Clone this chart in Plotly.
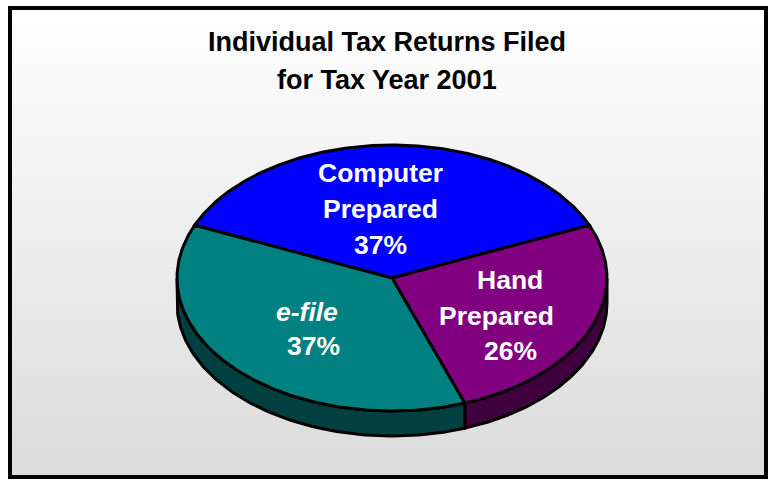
import numpy as np
import plotly.graph_objects as go

# ---- data ----
categories = ["Computer Prepared", "Hand Prepared", "e-file"]
shares = [37, 26, 37]
label_lines = [["Computer", "Prepared"], ["Hand", "Prepared"], ["<i>e-file</i>"]]
title_lines = ["Individual Tax Returns Filed", "for Tax Year 2001"]

# ---- style ----
top_colors = ["#0000FF", "#800080", "#008080"]
side_colors = ["#000080", "#400040", "#004040"]
label_pos = [
    [(380, 173), (380, 209), (380, 245)],
    [(510, 280), (496, 316), (510, 351)],
    [(307, 312), (313, 346)],
]
FONT = "Liberation Sans, Arial, Helvetica, sans-serif"
W, H = 771, 480
cx, cy, rx, ry, depth = 392, 278, 215, 133, 25

fig = go.Figure()

# background panel with vertical gradient
fig.add_trace(go.Scatter(
    x=[10, 766, 766, 10, 10], y=[8, 8, 477, 477, 8], mode="lines",
    fill="toself", line=dict(width=0),
    fillgradient=dict(type="vertical", colorscale=[[0, "#dbdbdb"], [1, "#ffffff"]]),
    hoverinfo="skip", showlegend=False))


def pt(t_deg, dy=0.0):
    t = np.radians(t_deg)
    return cx + rx * np.sin(t), cy - ry * np.cos(t) + dy


vals = np.array(shares, dtype=float)
fr = vals / vals.sum()
start = -fr[0] * 180.0
bounds = start + np.concatenate([[0], np.cumsum(fr) * 360.0])

# sides (front half only)
for i in range(len(vals)):
    a0, a1 = bounds[i], bounds[i + 1]
    for off in (-360, 0, 360):
        lo = max(a0, 90 + off)
        hi = min(a1, 270 + off)
        if hi - lo <= 0:
            continue
        ts = np.linspace(lo, hi, 120)
        xt, yt = pt(ts)
        xb, yb = pt(ts[::-1], depth)
        xs = np.concatenate([xt, xb, xt[:1]])
        ys = np.concatenate([yt, yb, yt[:1]])
        fig.add_trace(go.Scatter(x=xs, y=ys, mode="lines", fill="toself",
                                 fillcolor=side_colors[i],
                                 line=dict(color="black", width=3),
                                 hoverinfo="skip", showlegend=False))

# top faces
for i in range(len(vals)):
    a0, a1 = bounds[i], bounds[i + 1]
    ts = np.linspace(a0, a1, 240)
    xa, ya = pt(ts)
    xs = np.concatenate([[cx], xa, [cx]])
    ys = np.concatenate([[cy], ya, [cy]])
    fig.add_trace(go.Scatter(x=xs, y=ys, mode="lines", fill="toself",
                             fillcolor=top_colors[i],
                             line=dict(color="black", width=3),
                             name=categories[i], hoverinfo="name",
                             showlegend=False))

# labels
annotations = []
for i in range(len(vals)):
    lines = label_lines[i] + [f"{shares[i]:.0f}%"]
    for txt, (x, y) in zip(lines, label_pos[i]):
        annotations.append(dict(x=x, y=y, xref="x", yref="y", text=f"<b>{txt}</b>",
                                showarrow=False, xanchor="center", yanchor="middle",
                                font=dict(family=FONT, size=26.5, color="white")))

for k, (txt, y) in enumerate(zip(title_lines, [42, 80])):
    annotations.append(dict(x=387, y=y, xref="x", yref="y", text=f"<b>{txt}</b>",
                            showarrow=False, xanchor="center", yanchor="middle",
                            font=dict(family=FONT, size=27, color="black")))

fig.update_layout(
    width=W, height=H, margin=dict(l=0, r=0, t=0, b=0),
    paper_bgcolor="white", plot_bgcolor="white",
    xaxis=dict(range=[0, W], visible=False, fixedrange=True),
    yaxis=dict(range=[H, 0], visible=False, fixedrange=True),
    annotations=annotations,
    shapes=[dict(type="rect", xref="x", yref="y", x0=10, x1=766, y0=8, y1=477,
                 line=dict(color="black", width=4))],
    showlegend=False,
)

fig.write_html("out.html")
